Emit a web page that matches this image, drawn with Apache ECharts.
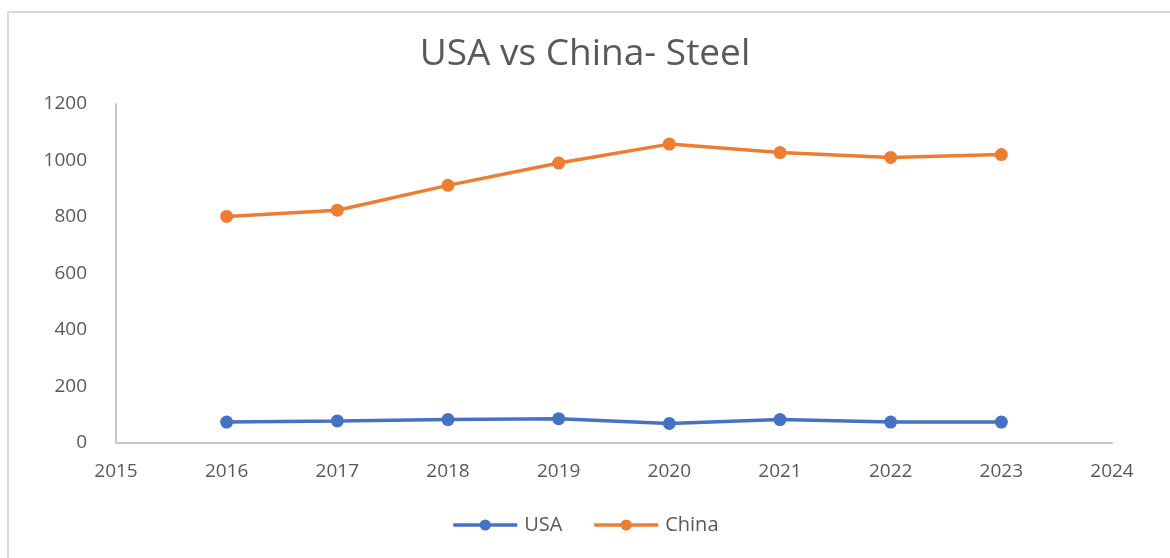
<!DOCTYPE html>
<html>
<head>
<meta charset="utf-8">
<script src="https://cdn.jsdelivr.net/npm/echarts@6/dist/echarts.min.js"></script>
<style>
html,body{margin:0;padding:0;background:#fff;}
#c{width:1170px;height:558px;}
</style>
</head>
<body>
<div id="c"></div>
<script>
const years = [2016, 2017, 2018, 2019, 2020, 2021, 2022, 2023];
const usaValues = [74, 78, 83, 86, 69, 83, 74, 74];
const chinaValues = [802, 824, 912, 991, 1058, 1028, 1011, 1021];
const titleText = 'USA vs China- Steel';
const seriesNames = ['USA', 'China'];

const chart = echarts.init(document.getElementById('c'), null, {renderer: 'canvas'});
const pairs = (xs, ys) => xs.map((x, i) => [x, ys[i]]);

chart.setOption({
  backgroundColor: '#ffffff',
  animation: false,
  title: {
    text: titleText,
    left: 'center',
    top: 31,
    textStyle: {fontFamily: 'Open Sans', fontSize: 37, fontWeight: 'normal', color: '#595959'}
  },
  graphic: [{
    type: 'rect',
    shape: {x: 8, y: 12, width: 1300, height: 700},
    style: {fill: 'none', stroke: '#d9d9d9', lineWidth: 2},
    silent: true
  }],
  legend: {
    data: seriesNames,
    top: 510,
    left: 'center',
    itemWidth: 64,
    itemHeight: 14,
    itemGap: 30,
    lineStyle: {width: 3.5},
    textStyle: {fontFamily: 'Open Sans', fontSize: 20, color: '#595959', padding: [0, 0, 0, 2]}
  },
  grid: {left: 116, right: 58, top: 104, bottom: 115},
  xAxis: {
    type: 'value',
    min: 2015, max: 2024, interval: 1,
    axisLine: {show: true, lineStyle: {color: '#c8c8c8', width: 2}},
    axisTick: {show: false},
    splitLine: {show: false},
    axisLabel: {margin: 19, fontFamily: 'Open Sans', fontSize: 19, color: '#595959', formatter: v => String(v)}
  },
  yAxis: {
    type: 'value',
    min: 0, max: 1200, interval: 200,
    axisLine: {show: true, lineStyle: {color: '#c8c8c8', width: 2}},
    axisTick: {show: false},
    splitLine: {show: false},
    axisLabel: {margin: 29, fontFamily: 'Open Sans', fontSize: 19, color: '#595959', formatter: v => String(v)}
  },
  series: [
    {
      name: seriesNames[0], type: 'line', data: pairs(years, usaValues),
      symbol: 'circle', symbolSize: 13,
      lineStyle: {color: '#4472C4', width: 3.5},
      itemStyle: {color: '#4472C4'}
    },
    {
      name: seriesNames[1], type: 'line', data: pairs(years, chinaValues),
      symbol: 'circle', symbolSize: 13,
      lineStyle: {color: '#ED7D31', width: 3.5},
      itemStyle: {color: '#ED7D31'}
    }
  ]
});
</script>
</body>
</html>
